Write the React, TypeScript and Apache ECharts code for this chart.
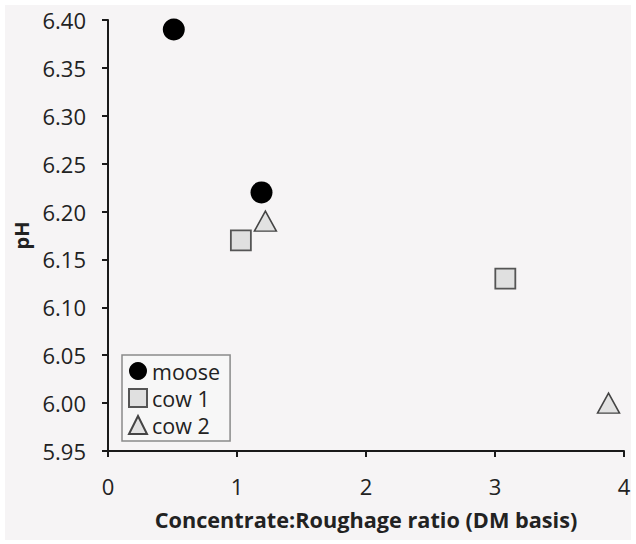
import React, { useEffect, useRef } from "react";
import * as echarts from "echarts";

const mooseData: [number, number][] = [
  [0.51, 6.39],
  [1.19, 6.22],
];
const cow1Data: [number, number][] = [
  [1.03, 6.17],
  [3.08, 6.13],
];
const cow2Data: [number, number][] = [
  [1.22, 6.19],
  [3.88, 6.0],
];
const seriesNames = ["moose", "cow 1", "cow 2"];
const xTitle = "Concentrate:Roughage ratio (DM basis)";
const yTitle = "pH";

export default function App() {
  const ref = useRef<HTMLDivElement>(null);
  useEffect(() => {
    if (!ref.current) return;
    const chart = echarts.init(ref.current, undefined, { renderer: "svg" });
    const font = "'Open Sans', sans-serif";
    chart.setOption({
      animation: false,
      backgroundColor: "#ffffff",
      graphic: [
        {
          type: "rect",
          z: -10,
          silent: true,
          shape: { x: 5, y: 5, width: 626, height: 535 },
          style: { fill: "#f6f4f5" },
        },
      ],
      grid: { left: 108, right: 12, top: 20, bottom: 93, containLabel: false },
      legend: {
        orient: "vertical",
        left: 122,
        top: 355,
        padding: [5, 10, 5, 6],
        itemGap: 5,
        itemWidth: 18,
        itemHeight: 18,
        itemTextGap: 6,
        borderColor: "#8a8a8a",
        borderWidth: 1.5,
        backgroundColor: "#f7f7f7",
        textStyle: { fontFamily: font, fontSize: 21.5, color: "#222", lineHeight: 21 },
        data: [
          { name: seriesNames[0], icon: "circle" },
          { name: seriesNames[1], icon: "rect" },
          { name: seriesNames[2], icon: "triangle" },
        ],
      },
      xAxis: {
        type: "value",
        min: 0,
        max: 4,
        interval: 1,
        name: xTitle,
        nameLocation: "middle",
        nameGap: 57,
        nameTextStyle: { fontFamily: font, fontSize: 21.7, fontWeight: "bold", color: "#222" },
        axisLine: { show: true, lineStyle: { color: "#1a1a1a", width: 2 } },
        axisTick: { show: true, inside: false, length: 6, lineStyle: { color: "#1a1a1a", width: 2 } },
        axisLabel: { fontFamily: font, fontSize: 22, color: "#222", margin: 24 },
        splitLine: { show: false },
      },
      yAxis: {
        type: "value",
        min: 5.95,
        max: 6.4,
        interval: 0.05,
        name: yTitle,
        nameLocation: "middle",
        nameGap: 76,
        nameTextStyle: { fontFamily: font, fontSize: 20, fontWeight: "bold", color: "#222" },
        axisLine: { show: true, lineStyle: { color: "#1a1a1a", width: 2 } },
        axisTick: { show: true, inside: false, length: 6, lineStyle: { color: "#1a1a1a", width: 2 } },
        axisLabel: {
          fontFamily: font,
          fontSize: 22,
          color: "#222",
          margin: 22,
          formatter: (v: number) => v.toFixed(2),
        },
        splitLine: { show: false },
      },
      series: [
        {
          name: seriesNames[0],
          type: "scatter",
          symbol: "circle",
          symbolSize: 22,
          data: mooseData,
          itemStyle: { color: "#000000", opacity: 1 },
        },
        {
          name: seriesNames[1],
          type: "scatter",
          symbol: "rect",
          symbolSize: 20,
          data: cow1Data,
          itemStyle: { color: "#e0e0e0", borderColor: "#555555", borderWidth: 1.8, opacity: 1 },
        },
        {
          name: seriesNames[2],
          type: "scatter",
          symbol: "triangle",
          symbolSize: [22, 20],
          data: cow2Data,
          itemStyle: { color: "#e2e2e2", borderColor: "#444444", borderWidth: 1.5, opacity: 1 },
        },
      ],
    });
    return () => chart.dispose();
  }, []);
  return (
    <div
      ref={ref}
      style={{ position: "absolute", left: 0, top: 0, width: 636, height: 544 }}
    />
  );
}
